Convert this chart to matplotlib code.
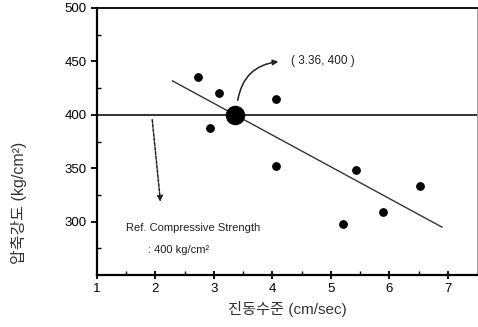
import matplotlib
matplotlib.use("Agg")
import matplotlib.pyplot as plt
import numpy as np

plt.rcParams['font.family'] = ['Liberation Sans', 'Noto Sans CJK KR', 'DejaVu Sans']

# data
vib_x = [2.72, 3.08, 2.93, 4.07, 4.07, 5.43, 6.52, 5.89, 5.20]
strength_y = [435, 420, 388, 415, 352, 348, 333, 309, 298]
center_point = (3.36, 400)
ref_strength = 400
fit_slope = -29.7
fit_x = [2.29, 6.9]
xticks = [1, 2, 3, 4, 5, 6, 7]
yticks = [300, 350, 400, 450, 500]

fig = plt.figure(figsize=(4.78, 3.27), dpi=100)
ax = fig.add_axes([97/478, 1-275/327, 380/478, 267/327])
ax.set_xlim(1, 7.5)
ax.set_ylim(250, 500)

ax.axhline(ref_strength, color='#222222', lw=1.3, zorder=1)
fx = np.array(fit_x)
ax.plot(fx, center_point[1] + fit_slope*(fx-center_point[0]), color='#333333', lw=1.0, zorder=2)
ax.scatter(vib_x, strength_y, s=28, color='black', zorder=3)
ax.scatter([center_point[0]], [center_point[1]], s=170, color='black', zorder=4)

ax.annotate('( 3.36, 400 )', xy=(4.12, 450), xytext=(4.32, 450),
            fontsize=8.5, va='center', ha='left', color='#222222')
ax.annotate('', xy=(4.15, 450), xytext=(3.40, 411),
            arrowprops=dict(arrowstyle='-|>', color='#222222', lw=1.1,
                            connectionstyle='arc3,rad=-0.4', mutation_scale=8))
ax.annotate('', xy=(2.09, 316), xytext=(1.94, 398),
            arrowprops=dict(arrowstyle='-|>', color='#222222', lw=1.1,
                            linestyle=(0, (2, 1)), mutation_scale=8))
ax.text(1.49, 294, 'Ref. Compressive Strength', fontsize=8, va='center', ha='left', color='#222222')
ax.text(1.88, 273, ': 400 kg/cm²', fontsize=8, va='center', ha='left', color='#222222')

ax.set_xticks(xticks)
ax.set_yticks(yticks)
ax.set_xticks(np.arange(1.5, 7.5, 1), minor=True)
ax.set_yticks([275, 325, 375, 425, 475], minor=True)
ax.tick_params(axis='x', which='major', direction='inout', length=6, width=1.3, labelsize=9.5, pad=3)
ax.tick_params(axis='x', which='minor', direction='in', length=3, width=1.0)
ax.tick_params(axis='y', which='major', direction='out', length=4, width=1.3, labelsize=9.5)
ax.tick_params(axis='y', which='minor', direction='in', length=3, width=1.0)

for s in ['left', 'bottom']:
    ax.spines[s].set_linewidth(1.6)
ax.spines['top'].set_linewidth(1.3)
ax.spines['right'].set_linewidth(0.6)
ax.spines['right'].set_color('#888888')

ax.set_xlabel('진동수준 (cm/sec)', fontsize=11, color='#333333', labelpad=4)
ax.set_ylabel('압축강도 (kg/cm²)', fontsize=11.5, color='#333333')
ax.yaxis.set_label_coords(-0.185, 0.27)

fig.savefig('out.png', dpi=100)
